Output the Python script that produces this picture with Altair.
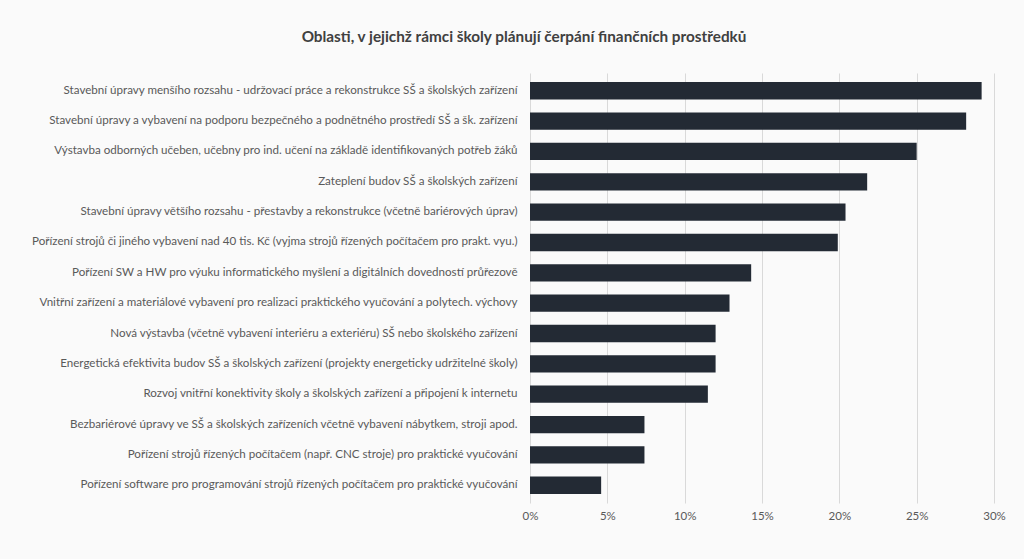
import altair as alt
import pandas as pd

categories = [
    "Stavební úpravy menšího rozsahu - udržovací práce a rekonstrukce SŠ a školských zařízení",
    "Stavební úpravy a vybavení na podporu bezpečného a podnětného prostředí SŠ a šk. zařízení",
    "Výstavba odborných učeben, učebny pro ind. učení na základě identifikovaných potřeb žáků",
    "Zateplení budov SŠ a školských zařízení",
    "Stavební úpravy většího rozsahu - přestavby a rekonstrukce (včetně bariérových úprav)",
    "Pořízení strojů či jiného vybavení nad 40 tis. Kč (vyjma strojů řízených počítačem pro prakt. vyu.)",
    "Pořízení SW a HW pro výuku informatického myšlení a digitálních dovedností průřezově",
    "Vnitřní zařízení a materiálové vybavení pro realizaci praktického vyučování a polytech. výchovy",
    "Nová výstavba (včetně vybavení interiéru a exteriéru) SŠ nebo školského zařízení",
    "Energetická efektivita budov SŠ a školských zařízení (projekty energeticky udržitelné školy)",
    "Rozvoj vnitřní konektivity školy a školských zařízení a připojení k internetu",
    "Bezbariérové úpravy ve SŠ a školských zařízeních včetně vybavení nábytkem, stroji apod.",
    "Pořízení strojů řízených počítačem (např. CNC stroje) pro praktické vyučování",
    "Pořízení software pro programování strojů řízených počítačem pro praktické vyučování",
]
values = [0.292, 0.282, 0.250, 0.218, 0.204, 0.199, 0.143, 0.129, 0.120, 0.120, 0.115, 0.074, 0.074, 0.046]

df = pd.DataFrame({"oblast": categories, "podil": values})

FONT = "Lato, sans-serif"

chart = (
    alt.Chart(df)
    .mark_bar(color="#232a34")
    .encode(
        x=alt.X(
            "podil:Q",
            scale=alt.Scale(domain=[0, 0.30], nice=False),
            axis=alt.Axis(
                format=".0%",
                values=[0, 0.05, 0.10, 0.15, 0.20, 0.25, 0.30],
                title=None,
                domain=False,
                ticks=False,
                grid=True,
                gridColor="#d9d9d9",
                gridWidth=1,
                labelColor="#595959",
                labelFontSize=11.5,
                labelFont=FONT,
                labelPadding=7,
                labelFlush=False,
            ),
        ),
        y=alt.Y(
            "oblast:N",
            sort=categories,
            scale=alt.Scale(paddingInner=0.43, paddingOuter=0.30),
            axis=alt.Axis(
                title=None,
                domain=False,
                ticks=False,
                labelColor="#595959",
                labelFontSize=11.6,
                labelFont=FONT,
                labelPadding=13,
                labelLimit=600,
            ),
        ),
    )
    .properties(
        width=464,
        height=430,
        background="#fafafa",
        padding={"left": 530, "top": 73, "right": 30, "bottom": 56},
        autosize=alt.AutoSizeParams(type="none"),
        title=alt.TitleParams(
            "Oblasti, v jejichž rámci školy plánují čerpání finančních prostředků",
            font=FONT,
            fontSize=15.3,
            fontWeight="bold",
            color="#404040",
            anchor="middle",
            dx=-238,
            offset=28,
        ),
    )
    .configure_view(stroke=None)
)

chart.save("out.html", embed_options={"renderer": "svg", "actions": False})
